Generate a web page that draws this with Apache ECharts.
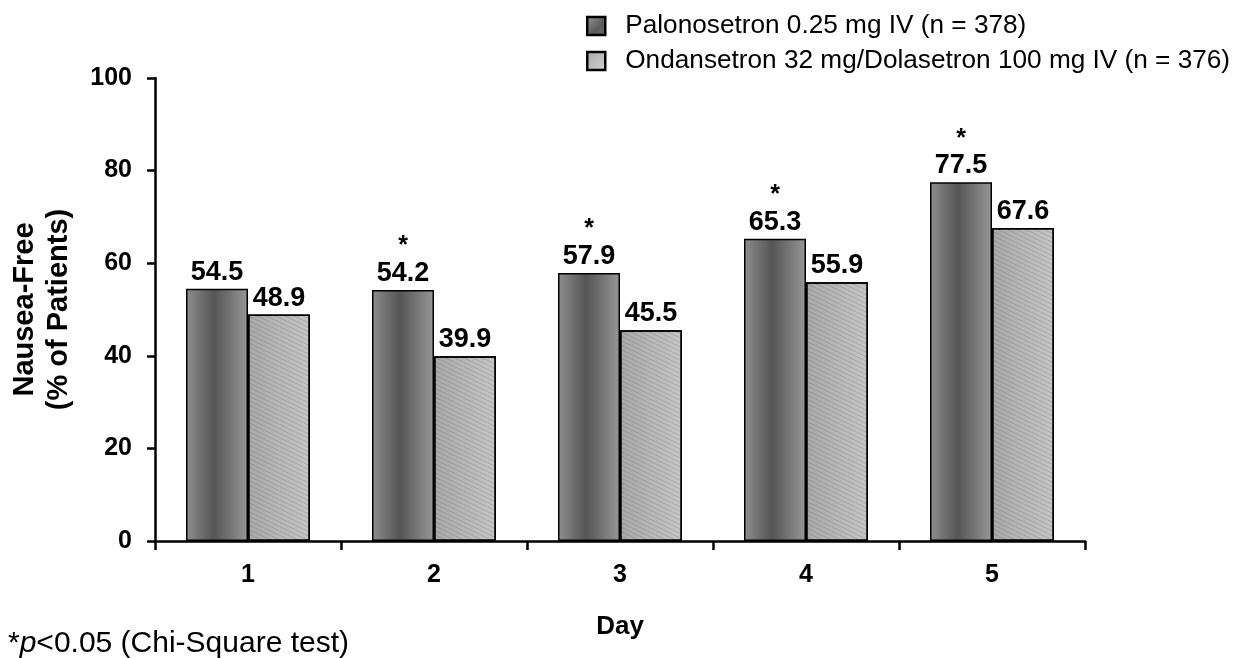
<!DOCTYPE html>
<html>
<head>
<meta charset="utf-8">
<script src="https://cdn.jsdelivr.net/npm/echarts@6/dist/echarts.min.js"></script>
<style>html,body{margin:0;padding:0;background:#fff}#c{width:1239px;height:658px}</style>
</head>
<body>
<div id="c"></div>
<script>
var days = ['1', '2', '3', '4', '5'];
var palonosetron = [54.5, 54.2, 57.9, 65.3, 77.5];
var ondansetron = [48.9, 39.9, 45.5, 55.9, 67.6];
var significant = [false, true, true, true, true];
var yTicks = [0, 20, 40, 60, 80, 100];
var seriesNames = ['Palonosetron 0.25 mg IV (n = 378)', 'Ondansetron 32 mg/Dolasetron 100 mg IV (n = 376)'];

var darkGrad = new echarts.graphic.LinearGradient(0, 0, 1, 0, [
  {offset: 0, color: '#8e8e8e'},
  {offset: 0.45, color: '#555555'},
  {offset: 1, color: '#979797'}
]);
var lightGrad = new echarts.graphic.LinearGradient(0, 0, 1, 0, [
  {offset: 0, color: '#a9a9a9'},
  {offset: 1, color: '#c6c6c6'}
]);
var legendDark = new echarts.graphic.LinearGradient(0, 0, 1, 1, [
  {offset: 0, color: '#9a9a9a'},
  {offset: 0.6, color: '#5a5a5a'},
  {offset: 1, color: '#6a6a6a'}
]);
var legendLight = new echarts.graphic.LinearGradient(0, 0, 1, 1, [
  {offset: 0, color: '#a8a8a8'},
  {offset: 1, color: '#d2d2d2'}
]);
var chart = echarts.init(document.getElementById('c'), null, {renderer: 'canvas'});
var font = 'Arial, "Liberation Sans", sans-serif';
chart.setOption({
  animation: false,
  backgroundColor: '#fff',
  textStyle: {fontFamily: font},
  grid: {left: 155, right: 154, top: 78, bottom: 117, containLabel: false},
  legend: {
    orient: 'vertical', left: 586, top: 13, padding: 0, itemWidth: 18, itemHeight: 18, itemGap: 9,
    textStyle: {fontSize: 26.2, color: '#000', fontFamily: font, padding: [0, 0, 0, 15]},
    data: [
      {name: seriesNames[0], icon: 'rect', itemStyle: {color: legendDark, borderColor: '#000', borderWidth: 2.5, decal: 'none'}},
      {name: seriesNames[1], icon: 'rect', itemStyle: {color: legendLight, borderColor: '#000', borderWidth: 2.5, decal: 'none'}}
    ]
  },
  xAxis: {
    type: 'category', data: days,
    name: 'Day', nameLocation: 'middle', nameGap: 73,
    nameTextStyle: {fontSize: 26, fontWeight: 'bold', color: '#000'},
    axisLine: {lineStyle: {color: '#000', width: 2.5}},
    axisTick: {show: true, length: 9, lineStyle: {color: '#000', width: 2.5}},
    axisLabel: {fontSize: 25, fontWeight: 'bold', color: '#000', margin: 22}
  },
  yAxis: {
    type: 'value', min: 0, max: 100, interval: 20,
    name: 'Nausea-Free\n(% of Patients)', nameLocation: 'middle', nameGap: 79, nameRotate: 90,
    nameTextStyle: {fontSize: 29, fontWeight: 'bold', color: '#000', lineHeight: 34},
    axisLine: {show: true, lineStyle: {color: '#000', width: 2.5}},
    axisTick: {show: true, length: 8, lineStyle: {color: '#000', width: 2.5}},
    splitLine: {show: false},
    axisLabel: {fontSize: 25, fontWeight: 'bold', color: '#000', margin: 23,
      formatter: function (v) { return yTicks.indexOf(v) >= 0 ? String(v) : ''; }}
  },
  series: [
    {
      name: seriesNames[0], type: 'bar', data: palonosetron,
      barWidth: 62, barGap: '0%',
      itemStyle: {color: darkGrad, borderColor: '#000', borderWidth: 1.5},
      label: {
        show: true, position: 'top', distance: 3,
        formatter: function (p) {
          var v = p.value.toFixed(1);
          return significant[p.dataIndex] ? '{s|*}\n{v|' + v + '}' : '{v|' + v + '}';
        },
        rich: {
          s: {fontSize: 25, fontWeight: 'bold', color: '#000', lineHeight: 27, fontFamily: font},
          v: {fontSize: 27, fontWeight: 'bold', color: '#000', lineHeight: 27, fontFamily: font}
        }
      }
    },
    {
      name: seriesNames[1], type: 'bar', data: ondansetron,
      barWidth: 62,
      itemStyle: {
        color: lightGrad, borderColor: '#000', borderWidth: 1.5,
        decal: {symbol: 'rect', symbolSize: 1, dashArrayX: [1, 0], dashArrayY: [1, 3],
          rotation: 0.45, color: 'rgba(0,0,0,0.13)'}
      },
      label: {
        show: true, position: 'top', distance: 3,
        fontSize: 27, fontWeight: 'bold', color: '#000', lineHeight: 27,
        formatter: function (p) { return p.value.toFixed(1); }
      }
    }
  ],
  graphic: [
    {type: 'text', left: 8, top: 629, style: {
      text: '{a|*}{b|p}{a|<0.05 (Chi-Square test)}',
      rich: {
        a: {fontSize: 30, fill: '#000', fontFamily: font},
        b: {fontSize: 30, fill: '#000', fontStyle: 'italic', fontFamily: font}
      }
    }}
  ]
});
</script>
</body>
</html>
